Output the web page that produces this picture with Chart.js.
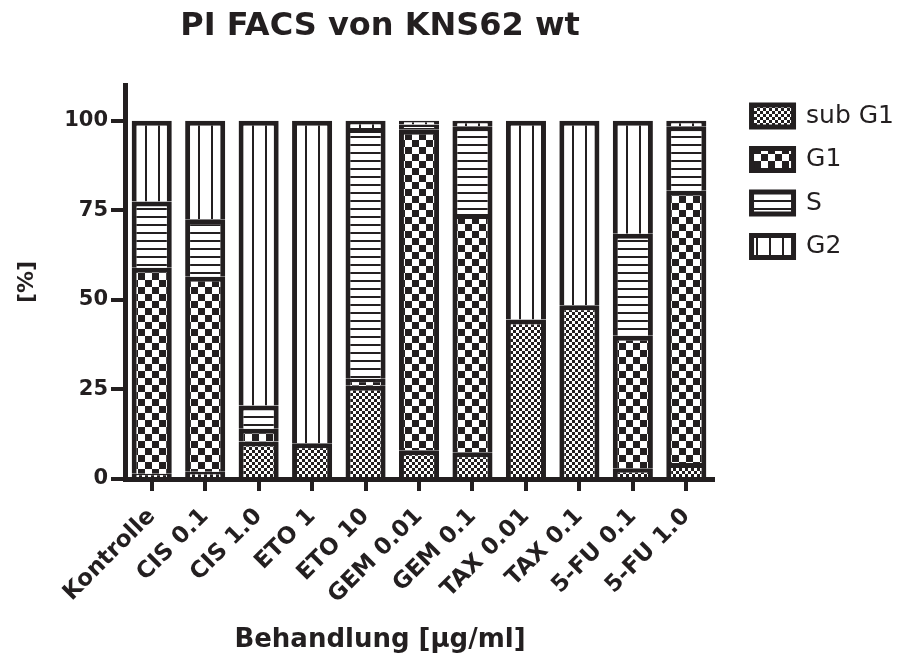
<!DOCTYPE html>
<html>
<head>
<meta charset="utf-8">
<script src="https://cdn.jsdelivr.net/npm/chart.js@4.4.1/dist/chart.umd.min.js"></script>
<style>
  body { margin: 0; background: #fff; }
  canvas { display: block; }
</style>
</head>
<body>
<canvas id="c" width="919" height="657"></canvas>
<script>
const categories = ['Kontrolle', 'CIS 0.1', 'CIS 1.0', 'ETO 1', 'ETO 10', 'GEM 0.01', 'GEM 0.1', 'TAX 0.01', 'TAX 0.1', '5-FU 0.1', '5-FU 1.0']
const subG1 = [1.5, 2, 10.5, 10, 26, 8, 7.5, 44.5, 48.5, 3, 4.5]
const G1 = [57.5, 54.5, 3.5, 0, 2, 89.5, 66.5, 0, 0, 37, 76]
const S = [18.5, 16, 6.5, 0, 70, 1.5, 24.5, 0, 0, 28.5, 18]
const G2 = [22.5, 27.5, 79.5, 90, 2, 1, 1.5, 55.5, 51.5, 31.5, 1.5]
const yTicks = [0, 25, 50, 75, 100]

const chartTitle = 'PI FACS von KNS62 wt'
const xTitle = 'Behandlung [µg/ml]'
const yTitle = '[%]'

const ink = '#231f20'
Chart.defaults.font.family = '"DejaVu Sans", sans-serif'
Chart.defaults.color = ink

// pattern tiles
function tile(size, draw) {
  const cv = document.createElement('canvas')
  cv.width = size[0]
  cv.height = size[1]
  const g = cv.getContext('2d')
  g.fillStyle = '#fff'
  g.fillRect(0, 0, size[0], size[1])
  g.fillStyle = ink
  draw(g)
  return cv
}
const tiles = {
  fine: tile([6, 6], g => { g.fillRect(0, 0, 3, 3); g.fillRect(3, 3, 3, 3) }),
  coarse: tile([14, 14], g => { g.fillRect(0, 0, 7, 7); g.fillRect(7, 7, 7, 7) }),
  hlines: tile([8, 8], g => { g.fillRect(0, 0, 8, 2) }),
  vlines: tile([13, 13], g => { g.fillRect(0, 0, 2, 13) }),
}

const ctx = document.getElementById('c').getContext('2d')

function patternFor(kind) {
  return (c) => {
    const p = ctx.createPattern(tiles[kind], 'repeat')
    if (c && c.type === 'data' && c.chart.scales.x) {
      const px = c.chart.scales.x.getPixelForValue(c.dataIndex)
      p.setTransform(new DOMMatrix([1, 0, 0, 1, Math.round(px) - 7, 0]))
    }
    return p
  }
}

const common = {
  borderColor: ink,
  borderWidth: 5,
  barPercentage: 0.75,
  categoryPercentage: 1,
}

const texts = {
  id: 'texts',
  afterLayout(chart) {
    // push the legend a bit away from the plot
    chart.legend.left += 20
    chart.legend.right += 20
  },
  afterDraw(chart) {
    const { ctx, chartArea } = chart
    const cx = chartArea.left + 255
    ctx.save()
    ctx.fillStyle = ink
    ctx.textAlign = 'center'
    ctx.textBaseline = 'alphabetic'
    ctx.font = 'bold 32px "DejaVu Sans"'
    ctx.fillText(chartTitle, cx, 35)
    ctx.font = 'bold 26px "DejaVu Sans"'
    ctx.fillText(xTitle, cx, 647)
    ctx.restore()
  },
}

new Chart(ctx, {
  type: 'bar',
  data: {
    labels: categories,
    datasets: [
      { label: 'sub G1', data: subG1, backgroundColor: patternFor('fine'), ...common },
      { label: 'G1', data: G1, backgroundColor: patternFor('coarse'), ...common },
      { label: 'S', data: S, backgroundColor: patternFor('hlines'), ...common },
      { label: 'G2', data: G2, backgroundColor: patternFor('vlines'), ...common },
    ],
  },
  options: {
    responsive: false,
    devicePixelRatio: 1,
    animation: false,
    layout: { padding: { top: 85, right: 35, left: 0, bottom: 0 } },
    plugins: {
      title: { display: false },
      tooltip: { enabled: false },
      legend: {
        position: 'right',
        align: 'start',
        fullSize: false,
        labels: {
          boxWidth: 42,
          boxHeight: 22,
          padding: 18.5,
          font: { size: 25 },
          color: ink,
        },
      },
    },
    scales: {
      x: {
        stacked: true,
        offset: true,
        grid: { drawOnChartArea: false, offset: false, tickLength: 12, lineWidth: 4, color: ink },
        border: { display: true, width: 5, color: ink },
        ticks: {
          autoSkip: false,
          maxRotation: 45,
          minRotation: 45,
          padding: 12,
          font: { size: 23, weight: 'bold' },
          color: ink,
        },
        afterFit(scale) { scale.height = 178 },
      },
      y: {
        stacked: true,
        min: 0,
        max: 110,
        afterBuildTicks(scale) { scale.ticks = yTicks.map(v => ({ value: v })) },
        grid: { drawOnChartArea: false, tickLength: 14, lineWidth: 4, color: ink },
        border: { display: true, width: 5, color: ink },
        ticks: { padding: 3, font: { size: 21, weight: 'bold' }, color: ink },
        title: { display: true, text: yTitle, font: { size: 22, weight: 'bold' }, padding: { top: 14, bottom: 4 }, color: ink },
        afterFit(scale) { scale.width = 125 },
      },
    },
  },
  plugins: [texts],
})
</script>
</body>
</html>
